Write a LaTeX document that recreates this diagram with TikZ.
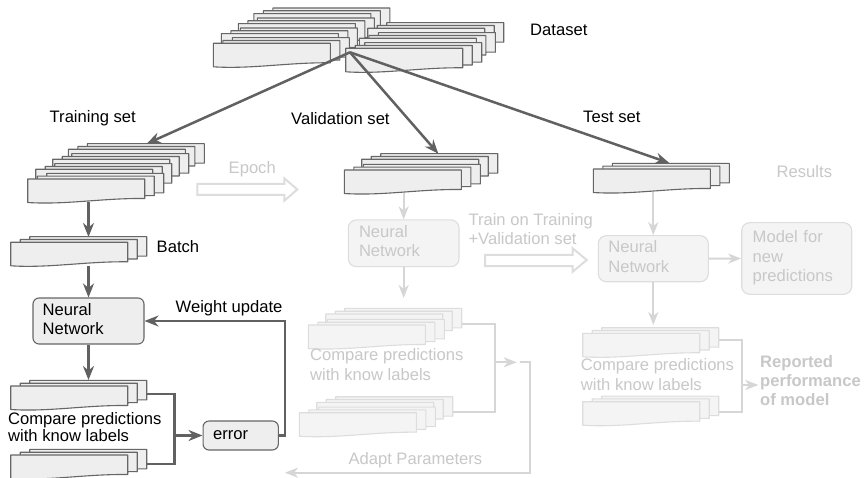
\documentclass[tikz,border=0pt]{standalone}
\usepackage{fontspec}
\setmainfont{Liberation Sans}
\usetikzlibrary{arrows.meta}

\definecolor{darkln}{HTML}{616161}
\definecolor{pgstroke}{HTML}{666666}
\definecolor{pgfill}{HTML}{EEEEEE}
\definecolor{lightln}{HTML}{D6D6D6}
\definecolor{lighttxt}{HTML}{C8C8C8}
\definecolor{lightfill}{HTML}{F4F4F4}
\definecolor{lightstroke}{HTML}{DDDDDD}

% one sheet with a wavy lower edge, top-left corner at the origin
\newcommand\docpagepath{(0,0) -- (117,0) -- (117,19.5) .. controls (75,19) and (38,26) .. (0,23.5) -- cycle}
% a fan of three sheets; #2 is the top-left corner of the front sheet
\newcommand\docgroup[2][darkpg]{%
  \foreach \k in {2,1,0}{\path[#1, shift={#2}, shift={(9.5*\k,-2.8*\k)}] \docpagepath;}}

\tikzset{
  darkpg/.style={draw=pgstroke, fill=pgfill, line width=1.1pt, line join=round},
  lightpg/.style={draw=lightstroke, fill=lightfill, line width=1.1pt, line join=round},
  darkarrow/.style={draw=darkln, line width=2.5pt, -{Stealth[length=14pt,width=11pt,inset=4.5pt]}},
  darkline/.style={draw=darkln, line width=2.5pt},
  lightarrow/.style={draw=lightln, line width=2pt, -{Stealth[length=13pt,width=10pt,inset=4pt]}},
  lightline/.style={draw=lightln, line width=2pt},
  hollowarrow/.style={draw=lightstroke, fill=white, line width=2pt, line join=miter},
  lbl/.style={inner sep=0pt, anchor=west, align=left,
    execute at begin node=\strut, execute at end node=\strut},
  boxdark/.style={draw=pgstroke, fill=pgfill, line width=1.1pt, rounded corners=6pt,
    inner ysep=0pt, align=left, execute at begin node=\strut, execute at end node=\strut},
  boxlight/.style={draw=lightstroke, fill=lightfill, text=lighttxt, line width=1.1pt,
    rounded corners=8pt, inner ysep=0pt, align=left,
    execute at begin node=\strut, execute at end node=\strut},
}

\begin{document}
\begin{tikzpicture}[x=1pt, y=-1pt, font=\fontsize{16.6}{19.5}\selectfont]
\fill[white] (0,0) rectangle (864,478);
\useasboundingbox (0,0) rectangle (864,478);

% ---------- dataset ----------
\docgroup{(253.9,13.6)}
\docgroup{(238.3,23.6)}
\docgroup{(221.3,33.6)}
\docgroup{(213.3,43.3)}
\docgroup{(367.7,28.3)}
\docgroup{(359.4,38.3)}
\docgroup{(345.7,48.3)}
\node[lbl] (dataset) at (530,32) {Dataset};

% ---------- training column ----------
\docgroup{(68.3,149.3)}
\docgroup{(52.7,159.3)}
\docgroup{(35.7,169.3)}
\docgroup{(27.7,179)}
\node[lbl] (trainlbl) at (49.5,119) {Training set};

\docgroup{(10.7,242.3)}
\node[lbl] (batchlbl) at (156.5,249) {Batch};

\node[boxdark, minimum width=111pt, minimum height=46pt, text width=91.6pt, inner xsep=9.7pt]
  (nn1) at (88.5,321) {Neural\\Network};

\docgroup{(10.7,386)}
\docgroup{(10.7,455)}
\node[lbl, font=\fontsize{16.6}{17}\selectfont] (cmp1) at (8,430) {Compare predictions\\with know labels};

\node[boxdark, minimum width=75.3pt, minimum height=29pt, text width=55.3pt, inner xsep=10pt]
  (err) at (240.7,435.5) {error};
\node[lbl] (wupd) at (175.5,309) {Weight update};

% ---------- validation column ----------
\docgroup{(361.7,159.3)}
\docgroup{(344.3,170)}
\node[lbl] (vallbl) at (291,121) {Validation set};

\node[boxlight, minimum width=110.7pt, minimum height=46.7pt, text width=89.3pt, inner xsep=10.7pt]
  (nn2) at (403.65,243.3) {Neural\\Network};

\docgroup[lightpg]{(325.7,314)}
\docgroup[lightpg]{(308.3,325)}
\docgroup[lightpg]{(316.7,402.3)}
\docgroup[lightpg]{(299.3,412.7)}
\node[lbl, text=lighttxt] (cmp2) at (310,367.3) {Compare predictions\\with know labels};
\node[lbl, text=lighttxt] (adapt) at (348.3,460.3) {Adapt Parameters};

% ---------- test column ----------
\docgroup{(593.3,169)}
\node[lbl] (testlbl) at (583,119) {Test set};
\node[lbl, text=lighttxt] (results) at (776.5,174) {Results};

\node[boxlight, minimum width=110pt, minimum height=46pt, text width=90pt, inner xsep=10pt]
  (nn3) at (653.3,258.7) {Neural\\Network};
\node[boxlight, minimum width=110pt, minimum height=71.6pt, text width=88pt, inner xsep=11pt]
  (model) at (796.7,258.5) {Model for\\new\\predictions};

\docgroup[lightpg]{(582.7,333.3)}
\docgroup[lightpg]{(582.7,401.7)}
\node[lbl, text=lighttxt, font=\fontsize{16.6}{20}\selectfont] (cmp3) at (580.7,377) {Compare predictions\\with know labels};
\node[lbl, text=lighttxt, font=\bfseries\fontsize{16.6}{19.2}\selectfont] (report) at (760,383.5)
  {Reported\\performance\\of model};

% ---------- hollow arrows between phases ----------
\node[lbl, text=lighttxt] (epoch) at (228.5,170) {Epoch};
\path[hollowarrow] (197.3,184) -- (284.3,184) -- (284.3,178.3) -- (297.3,189.5)
  -- (284.3,200.7) -- (284.3,195) -- (197.3,195) -- cycle;
\node[lbl, text=lighttxt] (trainall) at (468.3,231.8) {Train on Training\\+Validation set};
\path[hollowarrow] (485,255) -- (572.7,255) -- (572.7,248.3) -- (586.7,260)
  -- (572.7,271.7) -- (572.7,266) -- (485,266) -- cycle;

% ---------- connection points on the sheet stacks ----------
\coordinate (hub) at (350,52.3);
\coordinate (trainIn) at (146.7,143.7);
\coordinate (valIn) at (438.3,153.7);
\coordinate (testIn) at (669.3,163);
\coordinate (trainOut) at (88.5,202);
\coordinate (batchIn) at (88.5,237);
\coordinate (batchOut) at (88.5,265.5);
\coordinate (predIn) at (88.5,380);
\coordinate (pred1Out) at (146.7,394);
\coordinate (pred2Out) at (146.7,464);
\coordinate (join1) at (174.3,435.5);
\coordinate (valOut) at (403.65,193);
\coordinate (cmp2In) at (403.65,298);
\coordinate (cmp2TopOut) at (461.7,324);
\coordinate (cmp2BotOut) at (452.7,411.7);
\coordinate (join2) at (495,362.3);
\coordinate (join2Tip) at (516.7,362.3);
\coordinate (adaptStart) at (520,362.3);
\coordinate (adaptEnd) at (285,472.7);
\coordinate (testOut) at (653.3,192);
\coordinate (cmp3In) at (653.3,325);
\coordinate (cmp3TopOut) at (719,340);
\coordinate (cmp3BotOut) at (719,411.7);
\coordinate (join3) at (741.7,385);
\coordinate (join3Tip) at (758.3,385);

% ---------- dark connectors ----------
\draw[darkarrow] (hub) -- (trainIn);
\draw[darkarrow] (hub) -- (valIn);
\draw[darkarrow] (hub) -- (testIn);
\draw[darkarrow] (trainOut) -- (batchIn);
\draw[darkarrow] (batchOut) -- (nn1.north);
\draw[darkarrow] (nn1.south) -- (predIn);
\draw[darkline] (pred1Out) -| (join1);
\draw[darkline] (pred2Out) -| (join1);
\draw[darkarrow] (join1) -- (err.west);
\draw[darkarrow] (err.east) -- ++(6,0) |- (nn1.east);

% ---------- light connectors ----------
\draw[lightarrow] (valOut) -- (nn2.north);
\draw[lightarrow] (nn2.south) -- (cmp2In);
\draw[lightline] (cmp2TopOut) -| (join2);
\draw[lightline] (cmp2BotOut) -| (join2);
\draw[lightarrow] (join2) -- (join2Tip);
\draw[lightarrow] (adaptStart) -- ++(10,0) |- (adaptEnd);
\draw[lightarrow] (testOut) -- (nn3.north);
\draw[lightarrow] (nn3.east) -- (model.west);
\draw[lightarrow] (nn3.south) -- (cmp3In);
\draw[lightline] (cmp3TopOut) -| (join3);
\draw[lightline] (cmp3BotOut) -| (join3);
\draw[lightarrow] (join3) -- (join3Tip);
\end{tikzpicture}
\end{document}
